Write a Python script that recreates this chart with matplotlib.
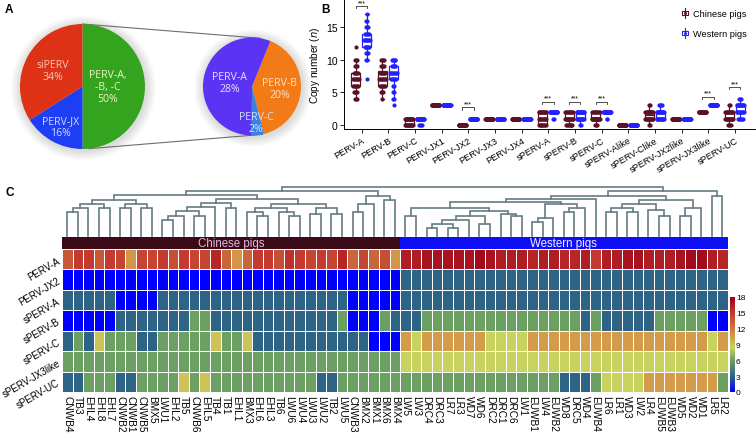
import numpy as np
import matplotlib
matplotlib.use("Agg")
import matplotlib.pyplot as plt
from matplotlib.colors import LinearSegmentedColormap
from matplotlib.patches import Rectangle, Circle
from matplotlib.lines import Line2D
from matplotlib.legend_handler import HandlerBase

plt.rcParams['font.family'] = ['Liberation Sans', 'DejaVu Sans']

# ================= DATA =================
# ---- Panel A ----
outer_labels = ["PERV-A,\n-B, -C", "PERV-JX", "siPERV"]
outer_pct = [50, 16, 34]
inner_labels = ["PERV-B", "PERV-C", "PERV-A"]
inner_pct = [20, 2, 28]

# ---- Panel B ----
categories = ["PERV-A", "PERV-B", "PERV-C", "PERV-JX1", "PERV-JX2", "PERV-JX3", "PERV-JX4",
              "sPERV-A", "sPERV-B", "sPERV-C", "sPERV-Alike", "sPERV-Clike",
              "sPERV-JX2like", "sPERV-JX3like", "sPERV-UC"]
chinese_copies = [
    [4]*3 + [5]*4 + [6]*6 + [7]*7 + [8]*5 + [9]*3 + [10]*3 + [12],
    [4] + [5]*3 + [6]*6 + [7]*8 + [8]*6 + [9]*4 + [10]*4,
    [0]*14 + [1]*18,
    [3]*32,
    [0]*32,
    [1]*32,
    [1]*32,
    [0]*9 + [1]*10 + [2]*13,
    [0]*8 + [1]*14 + [2]*10,
    [0]*3 + [1]*19 + [2]*10,
    [0]*32,
    [0]*2 + [1]*14 + [2]*14 + [3]*2,
    [1]*32,
    [2]*32,
    [0]*4 + [1]*14 + [2]*12 + [3]*2,
]
western_copies = [
    [7] + [10]*2 + [11]*3 + [12]*6 + [13]*8 + [14]*5 + [15]*3 + [16]*2 + [17],
    [3] + [4]*2 + [5]*2 + [6]*2 + [7]*6 + [8]*8 + [9]*5 + [10]*5,
    [0]*4 + [1]*27,
    [3]*31,
    [1]*31,
    [1]*31,
    [1]*31,
    [1]*2 + [2]*29,
    [0]*2 + [1]*12 + [2]*17,
    [1]*2 + [2]*29,
    [0]*31,
    [1]*13 + [2]*14 + [3]*4,
    [1]*31,
    [3]*31,
    [1]*6 + [2]*10 + [3]*12 + [4]*3,
]
sig_categories = ["PERV-A", "PERV-JX2", "sPERV-A", "sPERV-B", "sPERV-C", "sPERV-JX3like", "sPERV-UC"]
sig_heights = [18.2, 2.7, 3.6, 3.6, 3.6, 4.3, 5.8]

# ---- Panel C ----
chinese_samples = ["CNWB4", "TB3", "EHL4", "EHL8", "EHL7", "CNWB2", "CNWB1", "CNWB5", "BMX5", "LWU1",
                   "EHL2", "TB5", "CNWB6", "EHL5", "TB4", "TB1", "EHL1", "BMX3", "EHL6", "EHL3",
                   "TB6", "LWU6", "LWU4", "LWU3", "LWU2", "TB2", "LWU5", "CNWB3", "BMX2", "BMX1",
                   "BMX6", "BMX4"]
western_samples = ["LW5", "LW3", "DRC4", "DRC3", "LR7", "LR3", "WD7", "WD6", "DRC2", "DRC1",
                   "DRC6", "LW1", "EUWB1", "LW4", "EUWB2", "WD8", "DRC5", "WD4", "EUWB4", "LR6",
                   "LR1", "WD3", "LW2", "LR4", "EUWB5", "EUWB3", "WD5", "WD2", "WD1", "LR5", "LR2"]
heat_rows = ["PERV-A", "PERV-JX2", "sPERV-A", "sPERV-B", "sPERV-C", "sPERV-JX3like", "sPERV-UC"]

perv_a_heat = [13.5, 15, 15, 13.5, 15, 14.5, 10.8, 14.5, 14.5, 15, 14, 15, 14.5, 14.5, 16, 13,
               10.8, 13, 15, 15, 14, 15.5, 15, 14.5, 15, 14.5, 16, 13, 14.5, 13, 14, 10.8,
               16.5, 16.5, 17, 17, 17, 17, 17, 17.5, 17, 16.5, 16.5, 16.5, 16, 16.5, 16.5, 16,
               16, 16.5, 15, 16.5, 16.5, 17, 17, 16.5, 16.5, 16.5, 17, 17.5, 17.5, 16.5, 16]
perv_jx2_heat = [0]*32 + [3]*31
sperv_a_heat = [3]*5 + [0]*4 + [3]*18 + [0]*5 + [3]*31
sperv_b_heat = ([0]*5 + [3]*7 + [6]*2 + [3]*12 + [6] + [0]*3 + [6] + [3]
                + [3]*2 + [6]*15 + [3] + [6] + [3]*5 + [6]*5 + [0]*2)
sperv_c_heat = ([3, 6, 3, 9, 6, 6, 6, 3, 3, 6, 6, 6, 6, 6, 9, 6, 6, 9] + [3]*11 + [0]*3
                + [10.5, 8.5] + [10.5]*6 + [8.5]*4 + [10.5]*17 + [8.5, 10.5])
sperv_jx3like_heat = [6]*32 + [8.5]*31
sperv_uc_heat = ([3, 3, 6, 6, 6, 3, 3, 6, 6, 6, 6, 9, 6, 9] + [6]*10 + [3, 3] + [6]*6
                 + [6]*15 + [3]*3 + [6] + [8.5]*4 + [10.5]*7 + [6])

# dendrogram merges: (name, left, right, height)
dendro_merges = [
    ("A1", 0, 1, 24), ("A2", "A1", 2, 28), ("A3", 3, 4, 28), ("A4", "A2", "A3", 32.5),
    ("A5", 5, 6, 28), ("A6", 7, 8, 28), ("A7", "A5", "A6", 32.5), ("A8", "A4", "A7", 36.5),
    ("B1", 9, 10, 16), ("B2", "B1", 11, 20.5), ("B3", 12, 13, 20.5), ("B4", "B2", "B3", 25),
    ("B5", "B4", 14, 29), ("B6", 15, 16, 28), ("B7", "B5", "B6", 33),
    ("C1", 18, 19, 20), ("C2", 17, "C1", 24), ("C3", 21, 22, 20), ("C4", 20, "C3", 24),
    ("C5", "C2", "C4", 28), ("C6", 23, 24, 22), ("C7", 25, 26, 22), ("C8", "C6", "C7", 28),
    ("C9", "C5", "C8", 32), ("BC", "B7", "C9", 37), ("ABC", "A8", "BC", 41),
    ("D1", 27, 28, 24), ("D2", "D1", 29, 32), ("D3", 30, 31, 36), ("D4", "D2", "D3", 40.5),
    ("CH", "ABC", "D4", 45),
    ("W1", 32, 33, 20), ("W2", 34, 35, 8), ("W3", 36, 37, 8), ("W4", "W2", "W3", 12),
    ("W5", "W4", 38, 16), ("W6", 39, 40, 12), ("W7", "W5", "W6", 20), ("W9", 42, 43, 20),
    ("W10", 41, "W9", 22), ("W8", "W7", "W10", 25), ("X", "W1", "W8", 28),
    ("Y1", 44, 45, 14), ("Y2", "Y1", 46, 18), ("Y3", 47, 48, 24), ("Y4", "Y3", 49, 28),
    ("Y5", "Y2", "Y4", 32), ("P", "X", "Y5", 34), ("WLa", "P", 50, 37),
    ("Z1", 51, 52, 24), ("Z2", 53, 54, 24), ("Z3", "Z1", "Z2", 28), ("Z4a", 56, 57, 20),
    ("Z4", 55, "Z4a", 26), ("Z5", "Z3", "Z4", 32), ("Z6", 58, 59, 20), ("Z7", "Z6", 60, 28),
    ("Z8", "Z5", "Z7", 36), ("WL", "WLa", "Z8", 40.5), ("LR", 61, 62, 40),
    ("W", "WL", "LR", 44.7), ("root", "CH", "W", 49),
]

# ================= STYLE =================
W, H = 756, 439
fig = plt.figure(figsize=(W / 100, H / 100), dpi=100)


def fr(x0, y0, x1, y1):
    return [x0 / W, 1 - y1 / H, (x1 - x0) / W, (y1 - y0) / H]


ch_col = '#5c1226'
we_col = '#2222ff'

# ================= PANEL A =================
axA = fig.add_axes(fr(0, 0, 330, 170))

lc, lr = (82.5, 82.5), 62.5
rc, rr = (252.0, 82.5), 49.0

# soft glow
for (c, r) in [(lc, lr), (rc, rr)]:
    for k in range(9):
        axA.add_patch(Circle((c[0] + 1.0, c[1] - 1.5), r + 1 + k * 1.1, color='#808080',
                             alpha=0.03, lw=0, zorder=0))

wedL, _ = axA.pie(outer_pct, colors=['#34a41f', '#1d3ef2', '#dd3216'], startangle=90,
                  counterclock=False, center=lc, radius=lr, frame=True,
                  wedgeprops=dict(linewidth=0))
wedR, _ = axA.pie(inner_pct, colors=['#f27a17', '#3a82df', '#5b33f4'], startangle=68,
                  counterclock=False, center=rc, radius=rr, frame=True,
                  wedgeprops=dict(linewidth=0))
axA.set_xlim(0, 330)
axA.set_ylim(0, 170)
axA.axis('off')
axA.set_aspect('auto')

pie_font = ['Open Sans', 'DejaVu Sans']
left_txt_r = [0.41, 0.73, 0.54]
left_txt_c = ['#eef2c6', '#d6dbff', '#f9c6b8']
for w, lab, p, rf, tc in zip(wedL, outer_labels, outer_pct, left_txt_r, left_txt_c):
    a = np.deg2rad((w.theta1 + w.theta2) / 2)
    axA.text(lc[0] + rf * lr * np.cos(a), lc[1] + rf * lr * np.sin(a), f"{lab}\n{p}%",
             ha='center', va='center', color=tc, fontsize=7.6, family=pie_font,
             linespacing=1.15)
right_txt_r = [0.56, 0.74, 0.46]
right_txt_c = ['#fde2c4', '#d4e2ff', '#e6e0ff']
for w, lab, p, rf, tc in zip(wedR, inner_labels, inner_pct, right_txt_r, right_txt_c):
    a = np.deg2rad((w.theta1 + w.theta2) / 2)
    axA.text(rc[0] + rf * rr * np.cos(a), rc[1] + rf * rr * np.sin(a), f"{lab}\n{p}%",
             ha='center', va='center', color=tc, fontsize=7.6, family=pie_font,
             linespacing=1.15)

# connector lines
for al, ar in [(90, 80), (-84, -78)]:
    p0 = (lc[0] + lr * np.cos(np.deg2rad(al)), lc[1] + lr * np.sin(np.deg2rad(al)))
    p1 = (rc[0] + rr * np.cos(np.deg2rad(ar)), rc[1] + rr * np.sin(np.deg2rad(ar)))
    axA.plot([p0[0], p1[0]], [p0[1], p1[1]], color='#6e6e6e', lw=0.8, zorder=0.5)

# ================= PANEL B =================
axB = fig.add_axes(fr(344, 0, 755, 130))
xpos = np.arange(len(categories))
off_c, off_w = -0.22, 0.20


def spread(vals, center):
    xs, ys = [], []
    for v in sorted(set(vals)):
        n = vals.count(v)
        hw = min(0.14, 0.035 * (n - 1) / 2)
        xs.extend(list(center + np.linspace(-hw, hw, n)))
        ys.extend([v] * n)
    return xs, ys


for data, off, col in [(chinese_copies, off_c, ch_col), (western_copies, off_w, we_col)]:
    bp = axB.boxplot(data, positions=xpos + off, widths=0.34, patch_artist=True,
                     showfliers=False, whis=1.5, manage_ticks=False,
                     boxprops=dict(facecolor='white', edgecolor=col, lw=0.9),
                     medianprops=dict(color=col, lw=0.9),
                     whiskerprops=dict(color=col, lw=0.9),
                     capprops=dict(color=col, lw=0.9), capwidths=0.12)
    for i, vals in enumerate(data):
        xs, ys = spread(vals, xpos[i] + off)
        axB.plot(xs, ys, 'o', ms=3.0, color=col, mec='none', zorder=4)

for cat, h in zip(sig_categories, sig_heights):
    i = categories.index(cat)
    x0, x1 = i + off_c, i + off_w
    axB.plot([x0, x0, x1, x1], [h - 0.35, h, h, h - 0.35], color='#333333', lw=0.6,
             clip_on=False)
    axB.text(i, h + 0.02, '***', ha='center', va='bottom', fontsize=5, clip_on=False)

axB.set_xlim(-0.66, 14.75)
axB.set_ylim(-0.6, 19.3)
axB.set_yticks([0, 5, 10, 15])
axB.set_xticks(xpos)
axB.set_xticklabels(categories, rotation=30, ha='right', rotation_mode='anchor', fontsize=6.6)
axB.tick_params(axis='both', length=3, width=0.6, labelsize=7.5, pad=1.5)
axB.tick_params(axis='x', labelsize=6.6)
for s in ['top', 'right']:
    axB.spines[s].set_visible(False)
for s in ['left', 'bottom']:
    axB.spines[s].set_linewidth(0.7)
axB.set_ylabel('Copy number ($\\it{n}$)', fontsize=7.2, labelpad=3)


class BoxIcon(HandlerBase):
    def create_artists(self, legend, orig_handle, xdescent, ydescent, width, height, fontsize,
                       trans):
        c = orig_handle.get_color()
        cx = -xdescent + width / 2
        cy = -ydescent + height / 2
        bw, bh = height * 1.0, height * 0.75
        wh = Line2D([cx, cx], [cy - height * 0.8, cy + height * 0.8], color=c, lw=0.8,
                    transform=trans)
        rect = Rectangle((cx - bw / 2, cy - bh / 2), bw, bh, fc='white', ec=c, lw=0.8,
                         transform=trans)
        dot = Line2D([cx], [cy], marker='o', ms=2.2, color=c, mec='none', transform=trans)
        return [wh, rect, dot]


handles = [Line2D([], [], color=ch_col, label='Chinese pigs'),
           Line2D([], [], color=we_col, label='Western pigs')]
axB.legend(handles=handles, handler_map={Line2D: BoxIcon()}, loc='upper right',
           bbox_to_anchor=(1.0, 0.985), frameon=False, fontsize=6.6, handlelength=0.9,
           handletextpad=0.4, labelspacing=1.2)

# ================= PANEL C =================
n_ch, n_we = len(chinese_samples), len(western_samples)
n_col = n_ch + n_we
heat = np.array([perv_a_heat, perv_jx2_heat, sperv_a_heat, sperv_b_heat, sperv_c_heat,
                 sperv_jx3like_heat, sperv_uc_heat], dtype=float)
cmap = LinearSegmentedColormap.from_list('copy', [
    (0.0, '#0000ff'), (3 / 18, '#2e6585'), (6 / 18, '#6c9f62'), (8.5 / 18, '#c9d35e'),
    (10.5 / 18, '#d49b4a'), (13 / 18, '#c9653a'), (15 / 18, '#c43a30'), (1.0, '#9c0016')])

axH = fig.add_axes(fr(62, 250, 727.7, 393))
mesh = axH.pcolormesh(np.arange(n_col + 1), np.arange(len(heat_rows) + 1), heat, cmap=cmap,
                      vmin=0, vmax=18, edgecolors='white', linewidth=0.6)
axH.set_xlim(0, n_col)
axH.set_ylim(len(heat_rows), 0)
axH.set_xticks(np.arange(n_col) + 0.5)
axH.set_xticklabels(chinese_samples + western_samples, rotation=270, fontsize=7.3,
                    va='top', ha='center')
axH.set_yticks(np.arange(len(heat_rows)) + 0.5)
axH.set_yticklabels(heat_rows, rotation=30, ha='right', va='center', rotation_mode='anchor',
                    fontsize=7)
axH.tick_params(length=0, pad=2)
for s in axH.spines.values():
    s.set_visible(False)

# header bar
axHd = fig.add_axes(fr(62, 237.7, 727.7, 249.6))
axHd.axvspan(0, n_ch, color='#3b0a17', lw=0)
axHd.axvspan(n_ch, n_col, color='#0f10f2', lw=0)
axHd.set_xlim(0, n_col)
axHd.set_ylim(0, 1)
axHd.text(n_ch / 2, 0.45, 'Chinese pigs', ha='center', va='center', color='#e6b9e0',
          fontsize=8.3)
axHd.text(n_ch + n_we / 2, 0.45, 'Western pigs', ha='center', va='center', color='#f0f0ff',
          fontsize=8.3)
axHd.axis('off')

# dendrogram
axD = fig.add_axes(fr(62, 188, 727.7, 237))
axD.set_xlim(0, n_col)
axD.set_ylim(0, 49)
axD.axis('off')
node_x, node_h = {}, {}


def get(ref):
    if isinstance(ref, str):
        return node_x[ref], node_h[ref]
    return ref + 0.5, 0.0


for name, a, b, h in dendro_merges:
    xa, ha = get(a)
    xb, hb = get(b)
    axD.plot([xa, xa, xb, xb], [ha, h, h, hb], color='#667c82', lw=1.2, clip_on=False,
             solid_joinstyle='miter')
    node_x[name] = (xa + xb) / 2
    node_h[name] = h

# colorbar
axCb = fig.add_axes(fr(730, 298, 734.5, 393))
cb = fig.colorbar(mesh, cax=axCb, ticks=[0, 3, 6, 9, 12, 15, 18])
cb.ax.tick_params(labelsize=6, length=0, pad=1)
cb.outline.set_visible(False)

# panel letters
fig.text(5 / W, 1 - 10 / H, 'A', fontsize=8.5, fontweight='bold', va='center')
fig.text(321 / W, 1 - 10 / H, 'B', fontsize=8.5, fontweight='bold', va='center')
fig.text(5 / W, 1 - 193 / H, 'C', fontsize=8.5, fontweight='bold', va='center')

fig.savefig('out.png', dpi=100)
